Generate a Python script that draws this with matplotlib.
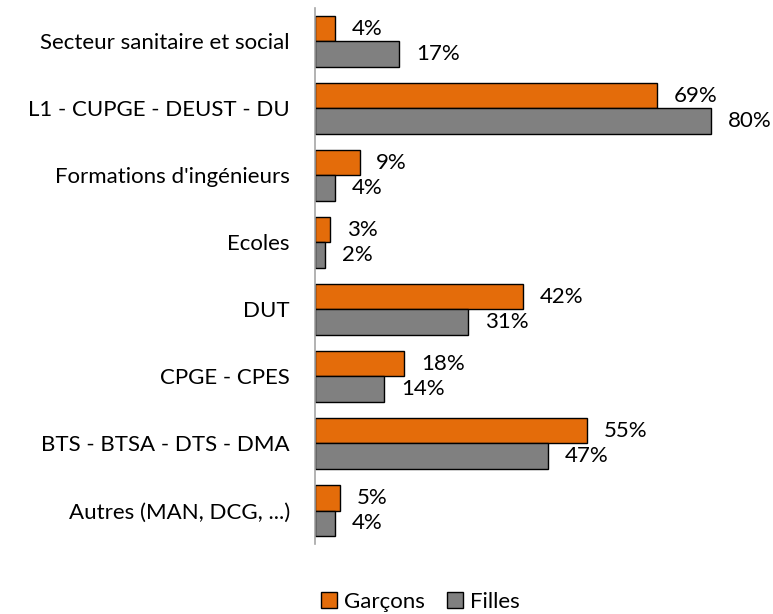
import numpy as np
import matplotlib.pyplot as plt
from matplotlib.patches import Patch

plt.rcParams['font.family'] = ['Lato', 'DejaVu Sans']

categories = [
    'Secteur sanitaire et social',
    'L1 - CUPGE - DEUST - DU',
    "Formations d'ingénieurs",
    'Ecoles',
    'DUT',
    'CPGE - CPES',
    'BTS - BTSA - DTS - DMA',
    'Autres (MAN, DCG, ...)',
]
garcons = [4, 69, 9, 3, 42, 18, 55, 5]
filles = [17, 80, 4, 2, 31, 14, 47, 4]

ORANGE = '#E46C0A'
GRAY = '#808080'
FS = 16

fig = plt.figure(figsize=(7.73, 6.14), dpi=100)
ax = fig.add_axes([0.4075, 0.114, 0.5765, 0.873])

y = np.arange(len(categories))
h = 0.38
ax.barh(y - h / 2, garcons, height=h, color=ORANGE, edgecolor='black', linewidth=1)
ax.barh(y + h / 2, filles, height=h, color=GRAY, edgecolor='black', linewidth=1)

for yi, g, f in zip(y, garcons, filles):
    ax.annotate('%d%%' % g, (g, yi - h / 2), xytext=(12, 0), textcoords='offset points',
                va='center', ha='left', fontsize=FS)
    ax.annotate('%d%%' % f, (f, yi + h / 2), xytext=(12, 0), textcoords='offset points',
                va='center', ha='left', fontsize=FS)

ax.set_ylim(len(categories) - 0.5, -0.5)
ax.set_xlim(0, 90)
ax.set_yticks(y)
ax.set_yticklabels(categories, fontsize=FS)
ax.tick_params(axis='y', length=0, pad=18)
ax.set_xticks([])
for s in ['top', 'right', 'bottom']:
    ax.spines[s].set_visible(False)
ax.spines['left'].set_color('#A6A6A6')
ax.spines['left'].set_linewidth(1.2)

handles = [Patch(facecolor=ORANGE, edgecolor='black', label='Garçons'),
           Patch(facecolor=GRAY, edgecolor='black', label='Filles')]
fig.legend(handles=handles, loc='center', bbox_to_anchor=(0.544, 0.02), ncol=2,
           frameon=False, fontsize=FS, handlelength=0.72, handleheight=0.72,
           handletextpad=0.3, columnspacing=1.0, borderpad=0)

fig.savefig('out.png', dpi=100)
